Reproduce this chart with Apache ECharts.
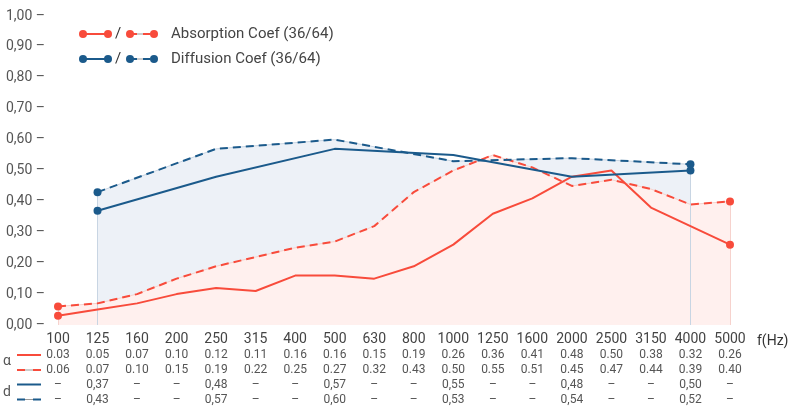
<!DOCTYPE html>
<html>
<head>
<meta charset="utf-8">
<style>
  html, body { margin: 0; padding: 0; background: #fff; }
  #chart { width: 788px; height: 408px; }
</style>
<script src="https://cdn.jsdelivr.net/npm/echarts@6/dist/echarts.min.js"></script>
</head>
<body>
<div id="chart"></div>
<script>
// Third-octave frequency bands (Hz)
const categories = ['100','125','160','200','250','315','400','500','630','800','1000','1250','1600','2000','2500','3150','4000','5000'];

// Absorption coefficient α
const absorptionSolid  = [0.03,0.05,0.07,0.10,0.12,0.11,0.16,0.16,0.15,0.19,0.26,0.36,0.41,0.48,0.50,0.38,0.32,0.26];
const absorptionDashed = [0.06,0.07,0.10,0.15,0.19,0.22,0.25,0.27,0.32,0.43,0.50,0.55,0.51,0.45,0.47,0.44,0.39,0.40];

// Diffusion coefficient d (octave bands only)
const diffusionSolid  = [null,0.37,null,null,0.48,null,null,0.57,null,null,0.55,null,null,0.48,null,null,0.50,null];
const diffusionDashed = [null,0.43,null,null,0.57,null,null,0.60,null,null,0.53,null,null,0.54,null,null,0.52,null];

const legendLabels = ['Absorption Coef (36/64)', 'Diffusion Coef (36/64)'];
const axisUnit = 'f(Hz)';

const RED = '#f84b3b';
const BLUE = '#1b5a8b';
const TEXT = '#555';
const FONT = 'Roboto, "Noto Sans", sans-serif';

// Only the first and last defined points get a dot
function withEndDots(values) {
  const idx = values.map((v, i) => (v == null ? -1 : i)).filter(i => i >= 0);
  const first = idx[0], last = idx[idx.length - 1];
  return values.map((v, i) => v == null ? null : {
    value: v,
    symbol: (i === first || i === last) ? 'circle' : 'none',
    symbolSize: 8
  });
}

// Faint vertical edges at both ends of a filled area
function edgeLines(values) {
  const idx = values.map((v, i) => (v == null ? -1 : i)).filter(i => i >= 0);
  return [idx[0], idx[idx.length - 1]].map(i => [
    { coord: [categories[i], 0] },
    { coord: [categories[i], values[i]] }
  ]);
}

const fmtA = v => (v == null ? '–' : v.toFixed(2));
const fmtD = v => (v == null ? '–' : v.toFixed(2).replace('.', ','));

const chart = echarts.init(document.getElementById('chart'), null, { renderer: 'canvas' });

const lineSeries = (name, data, color, dashed) => ({
  name, type: 'line', data: withEndDots(data), connectNulls: true,
  z: 5, symbol: 'circle', showSymbol: true, showAllSymbol: true,
  itemStyle: { color },
  lineStyle: { color, width: 2, type: dashed ? [8, 5] : 'solid' },
  emphasis: { disabled: true }, silent: true
});

const areaSeries = (data, fill, edge, z) => ({
  type: 'line', data: data, connectNulls: true, symbol: 'none', z,
  lineStyle: { color: edge, width: 1 },
  areaStyle: { color: fill, opacity: 1 },
  markLine: {
    silent: true, symbol: 'none', label: { show: false },
    lineStyle: { color: edge, width: 1, type: 'solid' },
    data: edgeLines(data)
  },
  silent: true
});

// Legend drawn as small line samples with end dots
function legendRow(y, color, text) {
  return [
    { type: 'line', shape: { x1: 83, y1: y, x2: 108, y2: y }, style: { stroke: color, lineWidth: 2 } },
    { type: 'circle', shape: { cx: 83, cy: y, r: 4 }, style: { fill: color } },
    { type: 'circle', shape: { cx: 108, cy: y, r: 4 }, style: { fill: color } },
    { type: 'text', x: 118, y: y, style: { text: '/', font: '15px ' + FONT, fill: '#333', align: 'center', verticalAlign: 'middle' } },
    { type: 'line', shape: { x1: 130, y1: y, x2: 154, y2: y }, style: { stroke: '#999', lineWidth: 1 } },
    { type: 'line', shape: { x1: 130, y1: y, x2: 154, y2: y }, style: { stroke: color, lineWidth: 2, lineDash: [7, 6] } },
    { type: 'circle', shape: { cx: 130, cy: y, r: 4 }, style: { fill: color } },
    { type: 'circle', shape: { cx: 154, cy: y, r: 4 }, style: { fill: color } },
    { type: 'text', x: 171, y: y, style: { text, font: '15px ' + FONT, fill: '#444', verticalAlign: 'middle' } }
  ];
}

// Row keys of the value table
function tableKey(y, color, dashed) {
  const out = [];
  if (dashed) out.push({ type: 'line', shape: { x1: 17, y1: y, x2: 41, y2: y }, style: { stroke: '#999', lineWidth: 1 } });
  out.push({ type: 'line', shape: { x1: 17, y1: y, x2: 41, y2: y }, style: { stroke: color, lineWidth: 2, lineDash: dashed ? [8, 8] : null } });
  return out;
}

const graphics = []
  .concat(legendRow(34, RED, legendLabels[0]))
  .concat(legendRow(59, BLUE, legendLabels[1]))
  .concat(tableKey(355, RED, false))
  .concat(tableKey(370, RED, true))
  .concat(tableKey(384.5, BLUE, false))
  .concat(tableKey(399.5, BLUE, true))
  .concat([
    { type: 'text', x: 7, y: 361, style: { text: 'α', font: '14px ' + FONT, fill: TEXT, align: 'center', verticalAlign: 'middle' } },
    { type: 'text', x: 7, y: 392, style: { text: 'd', font: '14px ' + FONT, fill: TEXT, align: 'center', verticalAlign: 'middle' } }
  ]);

chart.setOption({
  animation: false,
  backgroundColor: '#fff',
  textStyle: { fontFamily: FONT },
  grid: { left: 58, right: 58, top: 16, bottom: 83, containLabel: false, outerBoundsMode: 'none' },
  xAxis: {
    type: 'category',
    data: categories,
    boundaryGap: false,
    axisLine: { show: false },
    axisTick: { show: false },
    splitLine: { show: false },
    name: axisUnit,
    nameLocation: 'end',
    nameGap: 27,
    nameTextStyle: { fontSize: 14, color: '#333', verticalAlign: 'top', lineHeight: 16, padding: [8, 0, 0, 0] },
    axisLabel: {
      interval: 0,
      margin: 6,
      color: TEXT,
      formatter: function (value, i) {
        return [
          '{f|' + value + '}',
          '{v|' + fmtA(absorptionSolid[i]) + '}',
          '{v|' + fmtA(absorptionDashed[i]) + '}',
          '{v|' + fmtD(diffusionSolid[i]) + '}',
          '{v|' + fmtD(diffusionDashed[i]) + '}'
        ].join('\n');
      },
      rich: {
        f: { fontSize: 14, lineHeight: 16, color: '#444', fontFamily: FONT },
        v: { fontSize: 12, lineHeight: 15, color: TEXT, fontFamily: FONT }
      }
    }
  },
  yAxis: {
    type: 'value',
    min: 0, max: 1, interval: 0.1,
    axisLine: { show: false },
    axisTick: { show: false },
    splitLine: { show: false },
    axisLabel: {
      margin: 13,
      fontSize: 14,
      color: TEXT,
      formatter: v => v.toFixed(2).replace('.', ',') + ' –'
    }
  },
  graphic: graphics,
  series: [
    areaSeries(diffusionDashed, '#edf1f7', '#c8d5e3', 1),
    areaSeries(absorptionDashed, '#fff0ee', '#f6d2cd', 2),
    lineSeries('α solid', absorptionSolid, RED, false),
    lineSeries('α dashed', absorptionDashed, RED, true),
    lineSeries('d solid', diffusionSolid, BLUE, false),
    lineSeries('d dashed', diffusionDashed, BLUE, true)
  ]
});
</script>
</body>
</html>
